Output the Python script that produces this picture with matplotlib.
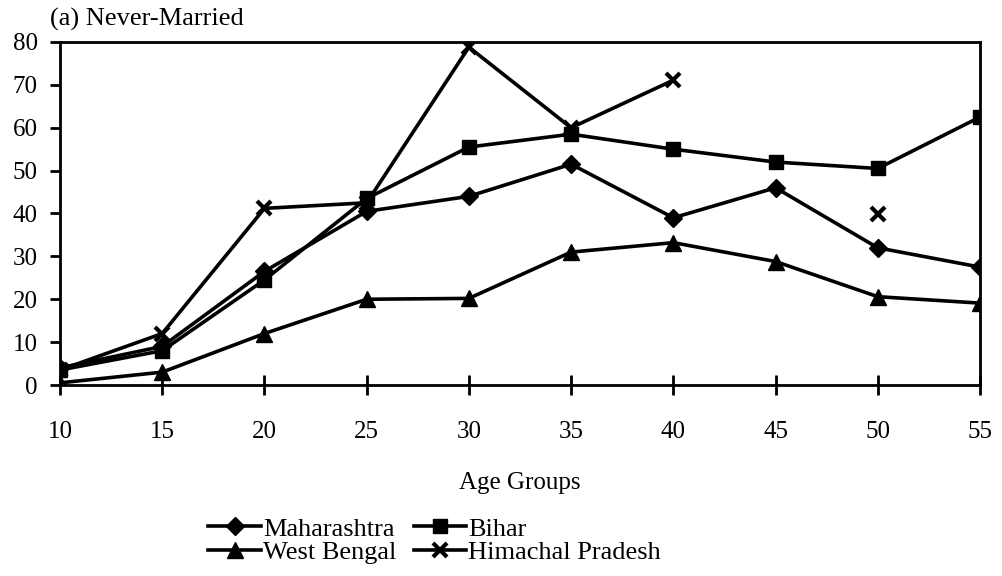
import matplotlib
matplotlib.use('Agg')
import matplotlib.pyplot as plt
import numpy as np

# Never-married percentages by age group
age_groups = [10, 15, 20, 25, 30, 35, 40, 45, 50, 55]
maharashtra = [4, 9, 26.5, 40.5, 44, 51.5, 39, 46, 32, 27.5]
bihar = [3.5, 8, 24.5, 43.5, 55.5, 58.5, 55, 52, 50.5, 62.5]
west_bengal = [0.5, 3, 12, 20, 20.2, 31, 33.2, 28.8, 20.6, 19.1]
himachal = [3.5, 12, 41.2, 42.5, 78.8, 60, 71.1, np.nan, 39.8, np.nan]

plt.rcParams['font.family'] = ['Liberation Serif', 'DejaVu Serif']

fig = plt.figure(figsize=(10.03, 5.76), dpi=100)
ax = fig.add_axes([60/1003, 1 - 385/576, 920/1003, 343/576])

lw = 2.6
ax.plot(age_groups, maharashtra, color='black', lw=lw, marker='D', ms=9, label='Maharashtra')
ax.plot(age_groups, west_bengal, color='black', lw=lw, marker='^', ms=11, label='West Bengal')
ax.plot(age_groups, bihar, color='black', lw=lw, marker='s', ms=10.5, label='Bihar')
ax.plot(age_groups, himachal, color='black', lw=lw, marker='x', ms=10, mew=3, label='Himachal Pradesh')

ax.set_xlim(10, 55)
ax.set_ylim(0, 80)
ax.set_xticks(age_groups)
ax.set_yticks(range(0, 81, 10))
ax.tick_params(axis='x', direction='inout', length=14, width=2, labelsize=18, pad=19)
ax.tick_params(axis='y', direction='out', length=7, width=2, labelsize=18, pad=9)
for s in ax.spines.values():
    s.set_linewidth(2)
    s.set_color('black')

ax.set_xlabel('Age Groups', fontsize=18, labelpad=21)
fig.text(50/1003, 1 - 19/576, '(a) Never-Married', fontsize=19, va='center', ha='left')

handles, labels = ax.get_legend_handles_labels()
fig.legend(handles, labels, ncol=2, frameon=False, fontsize=19,
           loc='upper left', bbox_to_anchor=(195/1003, 1 - 504/576),
           handlelength=2.0, handletextpad=0.08, columnspacing=0.65,
           labelspacing=0.0, borderpad=0)

fig.savefig('out.png', dpi=100)
